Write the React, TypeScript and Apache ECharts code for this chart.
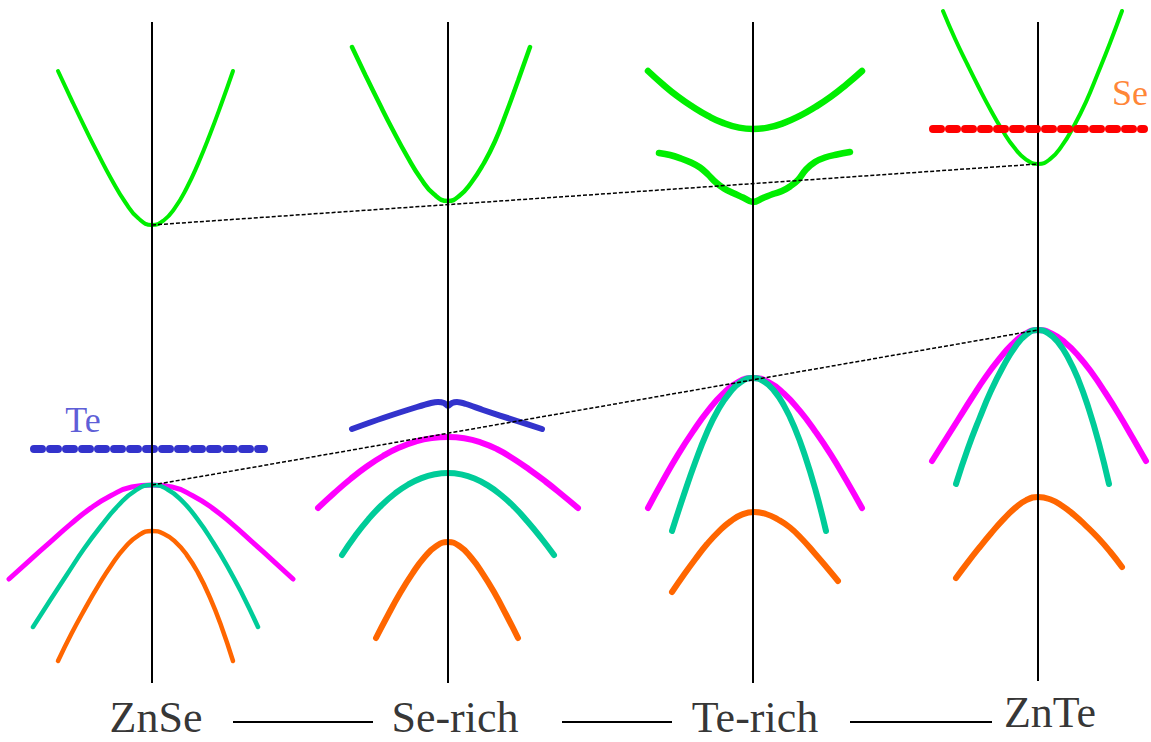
import React, { useEffect, useRef } from "react";
import * as echarts from "echarts";

type P = [number, number];

// ---- plot frame (data space = 1151 x 742, y grows downward) ----
const X_MAX = 1151;
const Y_MAX = 742;

// stage names and positions
const stageNames = ["ZnSe", "Se-rich", "Te-rich", "ZnTe"];
const stageLabelPos: P[] = [[156, 717], [455, 717], [755, 717], [1050, 712]];
const stageAxisX = [152, 448, 753, 1038];
const stageAxisTop = [22, 22, 22, 22];
const stageAxisBottom = [683, 683, 683, 681];
const stageConnectors: P[][] = [
  [[233, 722], [373, 722]],
  [[562, 722], [672, 722]],
  [[850, 722], [992, 722]],
];

// ---- ZnSe ----
const znseCB: P[] = [[58,71],[71.4,99.6],[84.9,127.6],[98.3,154.4],[111.7,179.7],[125.1,202],[138.6,218.6],[152,225],[163.6,220.5],[175.1,207.7],[186.7,188],[198.3,163.1],[209.9,134.6],[221.4,103.8],[233,71]];
const znseHH: P[] = [[9,579],[29.4,560.6],[49.9,542.4],[70.3,524.4],[90.7,508.1],[111.1,495.5],[131.6,487],[152,485],[172.1,487],[192.3,495.5],[212.4,508.1],[232.6,524.4],[252.7,542.4],[272.9,560.6],[293,579]];
const znseLH: P[] = [[33,627],[50,600.5],[67,574.5],[84,548.8],[101,526],[118,505.8],[135,490.8],[152,485],[167.1,489.2],[182.3,501.2],[197.4,519.2],[212.6,541.6],[227.7,566.8],[242.9,595.5],[258,627]];
const znseSO: P[] = [[58,661],[71.4,633.8],[84.9,608.9],[98.3,585.7],[111.7,564.7],[125.1,547.3],[138.6,535.3],[152,531],[163.6,533.7],[175.1,541.6],[186.7,554.8],[198.3,573.4],[209.9,597.4],[221.4,626.4],[233,661]];
const teLevel: P[] = [[34,449],[264,449]];

// ---- Se-rich ----
const serichCB: P[] = [[352,47],[365.7,75.7],[379.4,103.6],[393.1,130.5],[406.9,155.9],[420.6,178.2],[434.3,194.6],[448,201],[459.7,195.5],[471.4,182.5],[483.1,164.5],[494.9,141.5],[506.6,112],[518.3,80],[530,47]];
const serichTe: P[] = [[352,429],[383,418],[417,407],[431,403],[438,402],[444,403],[448,406],[452,403],[457,402],[466,404],[483,410],[517,421],[542,429]];
const serichHH: P[] = [[318,508],[334.25,493],[350.5,479],[366.75,466.5],[383,456],[399.25,447.6],[415.5,441.6],[431.75,438.1],[448,437],[464.25,438.3],[480.5,442.3],[496.75,449],[513,458.5],[529.25,469.5],[545.5,481.5],[561.75,494.5],[578,508]];
const serichLH: P[] = [[342,555],[355.25,535.8],[368.5,519.1],[381.75,505],[395,493.5],[408.25,484.5],[421.5,478.1],[434.75,474.3],[448,473],[461.25,474.4],[474.5,478.5],[487.75,485.4],[501,495],[514.25,507],[527.5,521.5],[540.75,537.5],[554,555]];
const serichSO: P[] = [[376,638],[388,615],[400,593.3],[412,574.1],[424,557.8],[436,546.3],[448,542],[459.7,546.3],[471.3,557.8],[483,574.1],[494.7,593.3],[506.3,615],[518,638]];

// ---- Te-rich ----
const terichCBUpper: P[] = [[648,71],[663,84.5],[678,96.7],[693,107],[708,115.9],[723,122.9],[738,127.4],[753,129],[768.6,127.4],[784.1,122.9],[799.7,115.9],[815.3,107],[830.9,96.7],[846.4,84.5],[862,71]];
const terichCBLower: P[] = [[659,153],[670,155],[681,158.5],[691,162.5],[700,167.5],[708,174.5],[716,182.5],[724,188.5],[733,193],[743,197.5],[753,202],[763,198],[773,194],[782,191],[790,186.5],[798,180],[806,169.5],[815,162],[825,157.5],[837,154.5],[850,152]];
const terichHH: P[] = [[648,508],[663,480.5],[678,454.6],[693,431.4],[708,410.7],[723,393.7],[738,382.1],[753,378],[768.6,382.1],[784.1,393.7],[799.7,410.7],[815.3,431.4],[830.9,454.6],[846.4,480.5],[862,508]];
const terichLH: P[] = [[672,531],[683.6,495.5],[695.1,462.5],[706.7,433],[718.3,409.5],[729.9,392.5],[741.4,381.6],[753,378],[763.4,381.1],[773.9,390.5],[784.3,406.1],[794.7,427.9],[805.1,456],[815.6,490.4],[826,531]];
const terichSO: P[] = [[672,592],[683.7,575],[695.4,559],[707.1,544],[718.9,531.3],[730.6,521.2],[742.3,514.4],[754,512],[766,514],[778,519.5],[790,527.5],[802,539],[814,552.5],[826,566.5],[838,581]];

// ---- ZnTe ----
const znteCB: P[] = [[943,11],[954.9,38.5],[966.75,63.2],[978.6,87],[990.5,109.7],[1002.4,130.3],[1014.25,147.6],[1026.1,159.6],[1038,164],[1050,159.2],[1062,145.7],[1074,125.8],[1086,101.8],[1098,73],[1110,43],[1122,11]];
const seLevel: P[] = [[933,129],[1144,129]];
const znteHH: P[] = [[932,461],[945.25,440],[958.5,419],[971.75,398],[985,377.9],[998.25,360.2],[1011.5,345],[1024.75,334.1],[1038,330],[1051.5,333.5],[1065,342.5],[1078.5,356],[1092,373],[1105.5,393],[1119,414.5],[1132.5,437.5],[1146,461]];
const znteLH: P[] = [[956,484],[967.7,449],[979.4,418.5],[991.1,390.6],[1002.9,367],[1014.6,347.7],[1026.3,334.6],[1038,330],[1048.1,333.1],[1058.3,342.6],[1068.4,358.3],[1078.6,380.3],[1088.7,408.6],[1098.9,443.2],[1109,484]];
const znteSO: P[] = [[956,578],[967.7,562.4],[979.4,547.5],[991.1,533.2],[1002.9,519.9],[1014.6,508.4],[1026.3,500.1],[1038,497],[1050,499.3],[1062,505.7],[1074,514.9],[1086,525.8],[1098,537.8],[1110,551.5],[1122,567]];

// band-edge connectors
const cbEdge: P[] = [[152,225],[1038,164]];
const vbEdge: P[] = [[152,485],[1038,330]];

// impurity level labels
const impurityLabels: { name: string; pos: P; color: string }[] = [
  { name: "Te", pos: [83, 420], color: "#3333cc" },
  { name: "Se", pos: [1130, 93], color: "#ff6600" },
];

const GREEN = "#00ee00";
const MAGENTA = "#ff00ff";
const TEAL = "#00cc99";
const ORANGE = "#ff6600";
const BLUE = "#3333cc";
const RED = "#ff0000";
const SERIF = "'Liberation Serif', 'Times New Roman', serif";

function curve(data: P[], color: string, width: number, smooth = 0.5, z = 3) {
  return {
    type: "line",
    data,
    smooth,
    symbol: "none",
    silent: true,
    z,
    lineStyle: { color, width, cap: "round", join: "round" },
  };
}

function straight(data: P[], color: string, width: number, type: any = "solid", z = 3, cap = "butt") {
  return {
    type: "line",
    data,
    smooth: false,
    symbol: "none",
    silent: true,
    z,
    lineStyle: { color, width, type, cap },
  };
}

export default function App() {
  const ref = useRef<HTMLDivElement>(null);
  useEffect(() => {
    if (!ref.current) return;
    const chart = echarts.init(ref.current, undefined, { renderer: "svg" });
    const series: any[] = [];

    // vertical stage axes
    stageAxisX.forEach((x, i) => {
      series.push(straight([[x, stageAxisTop[i]], [x, stageAxisBottom[i]]], "#000", 2, "solid", 6));
    });
    // connectors between stage names
    stageConnectors.forEach((c) => series.push(straight(c, "#000", 2, "solid", 3)));

    // ZnSe
    series.push(curve(znseCB, GREEN, 4));
    series.push(curve(znseHH, MAGENTA, 5));
    series.push(curve(znseLH, TEAL, 4.5));
    series.push(curve(znseSO, ORANGE, 4.5));
    series.push(straight(teLevel, BLUE, 8, [8, 8], 4, "round"));

    // Se-rich
    series.push(curve(serichCB, GREEN, 4.5));
    series.push(curve(serichTe, BLUE, 6, 0.3));
    series.push(curve(serichHH, MAGENTA, 6));
    series.push(curve(serichLH, TEAL, 6));
    series.push(curve(serichSO, ORANGE, 6));

    // Te-rich
    series.push(curve(terichCBUpper, GREEN, 6.5));
    series.push(curve(terichCBLower, GREEN, 6.5, 0.4));
    series.push(curve(terichHH, MAGENTA, 6));
    series.push(curve(terichLH, TEAL, 6));
    series.push(curve(terichSO, ORANGE, 6));

    // ZnTe
    series.push(curve(znteCB, GREEN, 4));
    series.push(straight(seLevel, RED, 8, [8, 8], 7, "round"));
    series.push(curve(znteHH, MAGENTA, 6));
    series.push(curve(znteLH, TEAL, 6));
    series.push(curve(znteSO, ORANGE, 6));

    // band-edge connecting dashed lines
    series.push(straight(cbEdge, "#000", 1.5, [4, 2], 8));
    series.push(straight(vbEdge, "#000", 1.5, [4, 2], 8));

    // stage names
    series.push({
      type: "scatter",
      silent: true,
      symbolSize: 1,
      itemStyle: { color: "rgba(0,0,0,0)" },
      z: 9,
      data: stageLabelPos.map((p, i) => ({ value: p, name: stageNames[i] })),
      label: {
        show: true,
        position: "inside",
        formatter: (p: any) => p.name,
        fontFamily: SERIF,
        fontSize: 44,
        lineHeight: 40,
        color: "#000",
      },
    });

    // impurity labels
    impurityLabels.forEach((l) => {
      series.push({
        type: "scatter",
        silent: true,
        symbolSize: 1,
        itemStyle: { color: "rgba(0,0,0,0)" },
        z: 9,
        data: [{ value: l.pos, name: l.name }],
        label: {
          show: true,
          position: "inside",
          formatter: (p: any) => p.name,
          fontFamily: SERIF,
          fontSize: 36,
          color: l.color,
        },
      });
    });

    chart.setOption({
      animation: false,
      backgroundColor: "#ffffff",
      grid: { left: 0, right: 0, top: 0, bottom: 0 },
      xAxis: { type: "value", min: 0, max: X_MAX, show: false },
      yAxis: { type: "value", min: 0, max: Y_MAX, inverse: true, show: false },
      series,
    });
    return () => chart.dispose();
  }, []);
  return (
    <div
      ref={ref}
      style={{ position: "absolute", left: 0, top: 0, width: 1151, height: 742, background: "#fff" }}
    />
  );
}
